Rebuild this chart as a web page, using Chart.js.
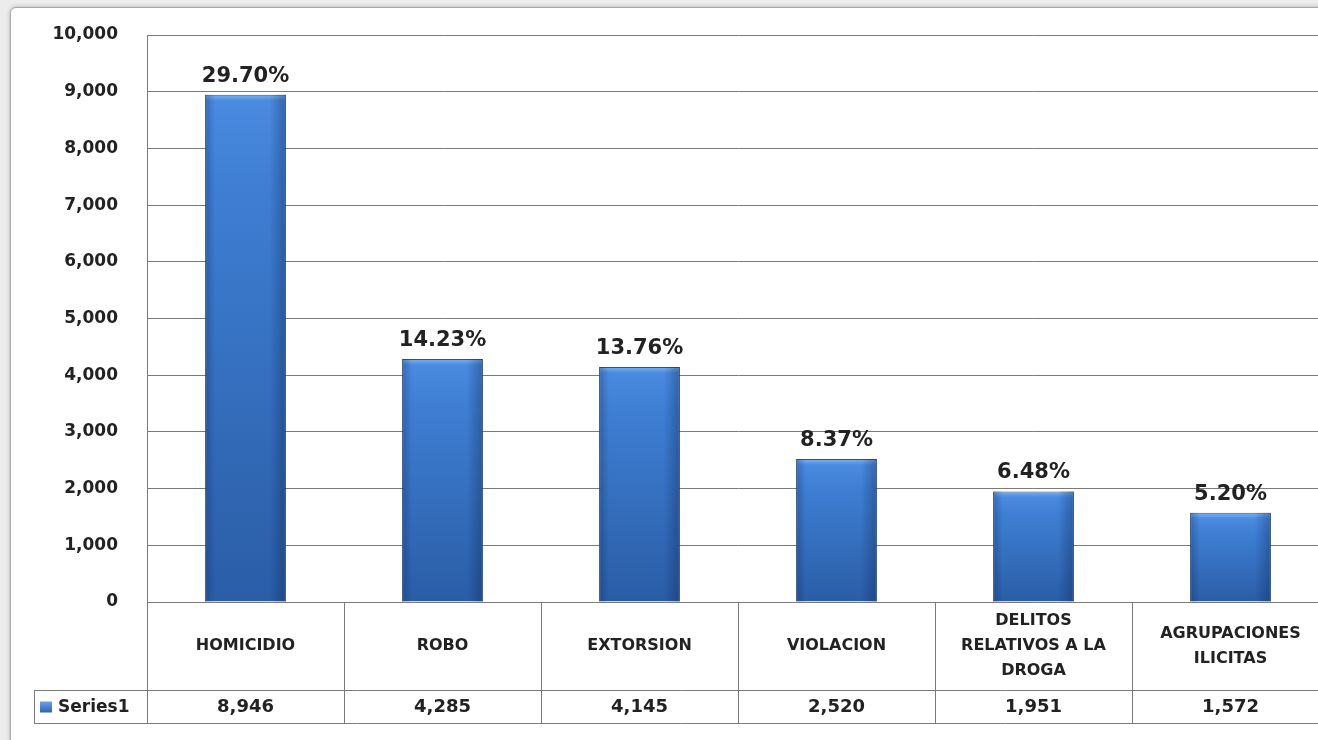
<!DOCTYPE html>
<html>
<head>
<meta charset="utf-8">
<script src="https://cdn.jsdelivr.net/npm/chart.js@4/dist/chart.umd.min.js"></script>
<style>
  html, body { margin: 0; padding: 0; width: 1318px; height: 740px; overflow: hidden; background: #ececec; }
  #frame { position: absolute; left: 10px; top: 7px; width: 1400px; height: 800px; background: #ffffff;
           border: 1px solid #a8a8a8; border-radius: 6px; box-shadow: 0 0 4px rgba(0,0,0,0.25); }
  #c { position: absolute; left: 0; top: 0; }
</style>
</head>
<body>
<div id="frame"></div>
<canvas id="c" width="1340" height="740"></canvas>
<script>
// ---- data ----
const categories = ['HOMICIDIO', 'ROBO', 'EXTORSION', 'VIOLACION', 'DELITOS RELATIVOS A LA DROGA', 'AGRUPACIONES ILICITAS'];
const categoryLines = [['HOMICIDIO'], ['ROBO'], ['EXTORSION'], ['VIOLACION'], ['DELITOS', 'RELATIVOS A LA', 'DROGA'], ['AGRUPACIONES', 'ILICITAS']];
const values = [8946, 4285, 4145, 2520, 1951, 1572];
const percentLabels = ['29.70%', '14.23%', '13.76%', '8.37%', '6.48%', '5.20%'];
const seriesName = 'Series1';
const yMin = 0, yMax = 10000, yStep = 1000;

const fmt = v => v.toLocaleString('en-US');
const GRID = '#7a7a7a';
const TEXT = '#222222';

function barFill(ctx) {
  const chart = ctx.chart;
  const ys = chart.scales && chart.scales.y;
  if (!ys || ctx.dataIndex === undefined) return '#3a78c8';
  const top = ys.getPixelForValue(ctx.raw);
  const bottom = ys.getPixelForValue(0);
  if (!isFinite(top) || !isFinite(bottom) || bottom - top < 2) return '#3a78c8';
  const g = chart.ctx.createLinearGradient(0, top, 0, bottom);
  const h = bottom - top;
  const cap = Math.min(0.5, 6 / h);
  g.addColorStop(0, '#7ab2f0');
  g.addColorStop(cap, '#4a8ae0');
  g.addColorStop(Math.min(0.9, cap + 0.15), '#3f7fd4');
  g.addColorStop(1, '#2a5da6');
  return g;
}

const tablePlugin = {
  id: 'tablePlugin',
  afterDatasetsDraw(chart) {
    const ctx = chart.ctx;
    const meta = chart.getDatasetMeta(0);
    const area = chart.chartArea;
    meta.data.forEach(bar => {
      const l = bar.x - bar.width / 2, r = bar.x + bar.width / 2;
      const g = ctx.createLinearGradient(l, 0, r, 0);
      g.addColorStop(0, 'rgba(10,30,70,0.3)');
      g.addColorStop(0.12, 'rgba(10,30,70,0.0)');
      g.addColorStop(0.8, 'rgba(10,30,70,0.0)');
      g.addColorStop(1, 'rgba(10,30,70,0.35)');
      ctx.save();
      ctx.fillStyle = g;
      ctx.fillRect(l, bar.y, r - l, bar.base - bar.y);
      ctx.restore();
    });
    ctx.save();
    ctx.font = 'bold 21px "DejaVu Sans"';
    ctx.fillStyle = TEXT;
    ctx.textAlign = 'center';
    ctx.textBaseline = 'alphabetic';
    meta.data.forEach((bar, i) => {
      ctx.fillText(percentLabels[i], bar.x, bar.y - 13);
    });
    ctx.restore();

    const xs = chart.scales.x;
    const top = area.bottom;
    const rowSplit = top + 88;
    const bottom = top + 121;
    const left = area.left;
    const right = area.right;
    const labelLeft = 34;
    ctx.save();
    ctx.strokeStyle = GRID;
    ctx.lineWidth = 1;
    ctx.beginPath();
    ctx.moveTo(left, top + 0.5); ctx.lineTo(right, top + 0.5);
    ctx.moveTo(labelLeft, rowSplit + 0.5); ctx.lineTo(right, rowSplit + 0.5);
    ctx.moveTo(labelLeft, bottom + 0.5); ctx.lineTo(right, bottom + 0.5);
    ctx.moveTo(labelLeft + 0.5, rowSplit); ctx.lineTo(labelLeft + 0.5, bottom);
    const n = categories.length;
    for (let i = 0; i <= n; i++) {
      const x = Math.round(i < n ? xs.getPixelForValue(i) - (right - left) / n / 2 : right) + 0.5;
      ctx.moveTo(x, top); ctx.lineTo(x, bottom);
    }
    ctx.stroke();

    ctx.fillStyle = TEXT;
    ctx.textAlign = 'center';
    ctx.textBaseline = 'middle';
    ctx.font = 'bold 16px "DejaVu Sans"';
    const midCat = (top + rowSplit) / 2;
    categoryLines.forEach((lines, i) => {
      const x = xs.getPixelForValue(i);
      const lh = 25;
      const y0 = midCat - (lines.length - 1) * lh / 2;
      lines.forEach((t, k) => ctx.fillText(t, x, y0 + k * lh));
    });
    const midVal = (rowSplit + bottom) / 2 + 1;
    ctx.font = 'bold 18px "DejaVu Sans"';
    values.forEach((v, i) => {
      ctx.fillText(fmt(v), xs.getPixelForValue(i), midVal);
    });
    const kg = ctx.createLinearGradient(0, midVal - 6, 0, midVal + 6);
    kg.addColorStop(0, '#6aa2ea');
    kg.addColorStop(1, '#2a5da6');
    ctx.fillStyle = kg;
    ctx.fillRect(40, midVal - 6, 12, 11);
    ctx.fillStyle = TEXT;
    ctx.textAlign = 'left';
    ctx.font = 'bold 17px "DejaVu Sans"';
    ctx.fillText(seriesName, 58, midVal);
    ctx.restore();
  }
};

new Chart(document.getElementById('c'), {
  type: 'bar',
  data: {
    labels: categories,
    datasets: [{
      label: seriesName,
      data: values,
      backgroundColor: barFill,
      borderColor: '#2a5592',
      borderWidth: 1,
      barPercentage: 0.41,
      categoryPercentage: 1.0
    }]
  },
  options: {
    responsive: false,
    animation: false,
    layout: { padding: { left: 0, right: 11, top: 35, bottom: 18 } },
    plugins: { legend: { display: false }, tooltip: { enabled: false } },
    scales: {
      x: {
        offset: true,
        grid: { display: false, drawTicks: false },
        border: { display: false },
        ticks: { display: false },
        afterFit(scale) { scale.height = 120; }
      },
      y: {
        min: yMin, max: yMax,
        grid: { color: GRID, lineWidth: 1, drawTicks: false },
        border: { display: true, color: GRID, width: 1 },
        ticks: {
          stepSize: yStep,
          padding: 29,
          color: TEXT,
          font: { family: 'DejaVu Sans', weight: 'bold', size: 17 },
          callback: v => fmt(v)
        },
        afterFit(scale) { scale.width = 147; scale.paddingTop = 0; scale.paddingBottom = 0; }
      }
    }
  },
  plugins: [tablePlugin]
});
</script>
</body>
</html>
